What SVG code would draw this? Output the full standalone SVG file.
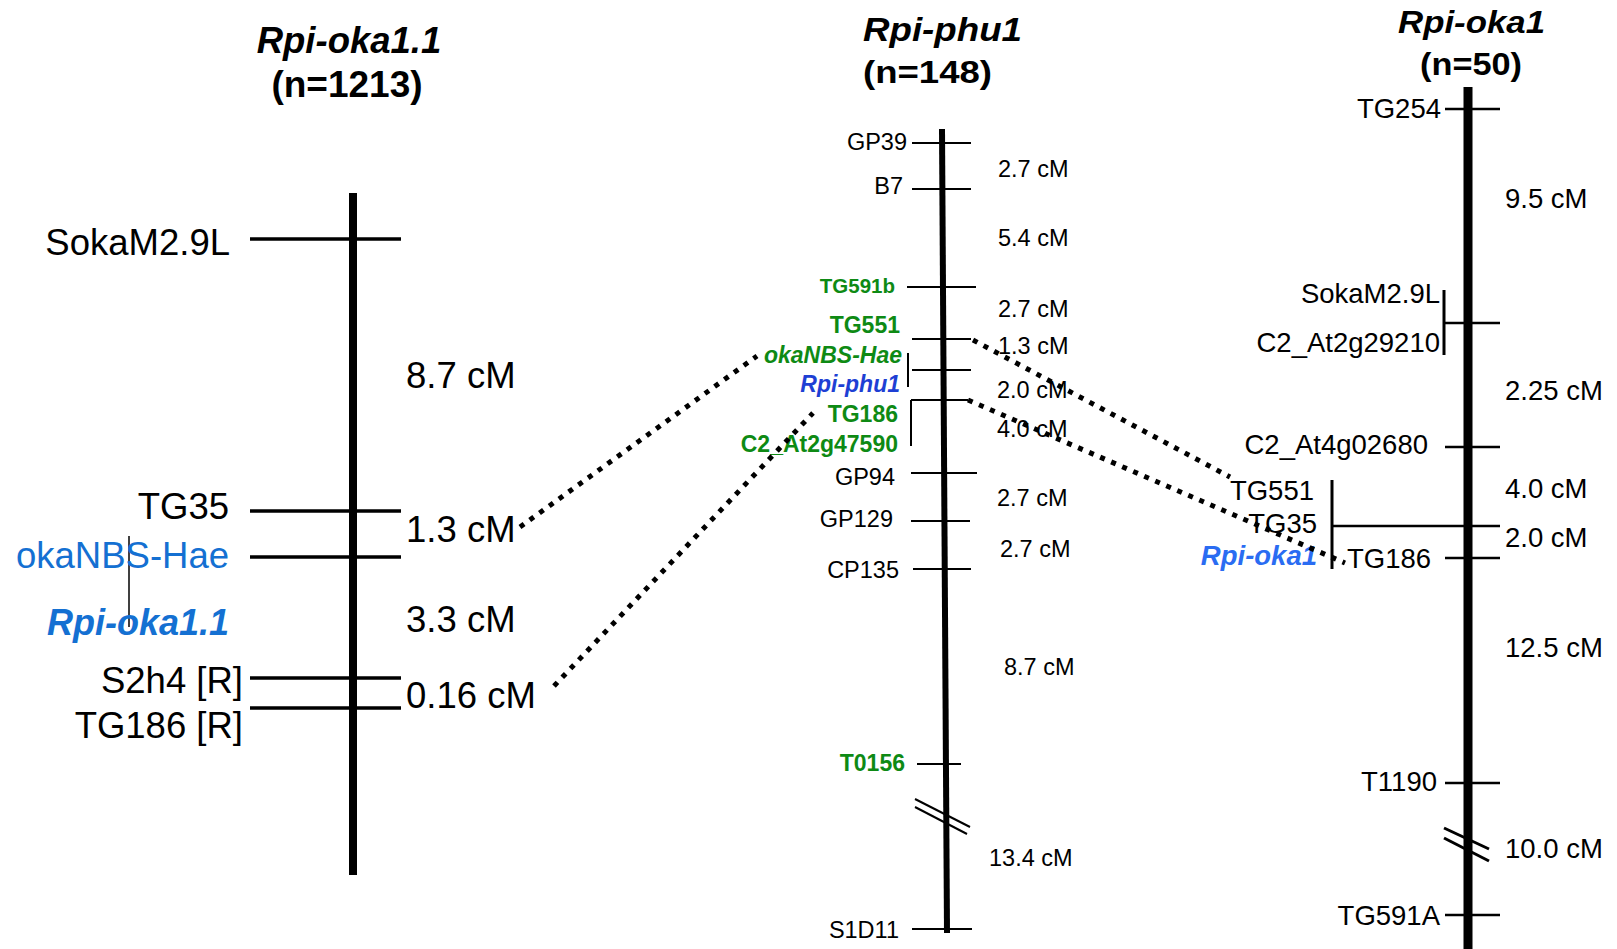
<svg xmlns="http://www.w3.org/2000/svg" width="1617" height="949" viewBox="0 0 1617 949">
<style>
text{font-family:"Liberation Sans",Arial,sans-serif;fill:#000}
.t{font-weight:bold}
.ti{font-weight:bold;font-style:italic}
.L{font-size:36.5px}
.M{font-size:23.5px}
.R{font-size:27.5px}
.e{text-anchor:end}
.g{fill:#0e8a14;font-weight:bold}
.blue1{fill:#1470d2}
.blue2{fill:#1e3fd4}
.blue3{fill:#2a6cf2}
.chr{stroke:#000;fill:none}
.tk{stroke:#000;fill:none}
.dot{stroke:#000;stroke-width:5;stroke-dasharray:5 7;fill:none}
</style>
<rect width="1617" height="949" fill="#fff"/>

<g id="titles">
<text class="ti" x="349" y="53" font-size="36.5" text-anchor="middle">Rpi-oka1.1</text>
<text class="t" x="347" y="97" font-size="37" text-anchor="middle">(n=1213)</text>
<text class="ti" x="863" y="41" font-size="33" textLength="159" lengthAdjust="spacingAndGlyphs">Rpi-phu1</text>
<text class="t" x="863" y="83" font-size="32" textLength="129" lengthAdjust="spacingAndGlyphs">(n=148)</text>
<text class="ti" x="1398" y="33" font-size="32" textLength="147" lengthAdjust="spacingAndGlyphs">Rpi-oka1</text>
<text class="t" x="1420" y="75" font-size="32" textLength="102" lengthAdjust="spacingAndGlyphs">(n=50)</text>
</g>

<g id="chrom-left">
<line class="chr" x1="353" y1="193" x2="353" y2="875" stroke-width="8"/>
<g class="tk" stroke-width="3.5">
<line x1="250" y1="239" x2="401" y2="239"/>
<line x1="250" y1="511" x2="401" y2="511"/>
<line x1="250" y1="557" x2="401" y2="557"/>
<line x1="250" y1="678" x2="401" y2="678"/>
<line x1="250" y1="708" x2="401" y2="708"/>
</g>
<line class="tk" x1="129" y1="536" x2="129" y2="627" stroke-width="1.5"/>
<text class="L e" x="230" y="255">SokaM2.9L</text>
<text class="L e" x="229" y="519">TG35</text>
<text class="L e blue1" x="229" y="568">okaNBS-Hae</text>
<text class="e ti blue1" x="229" y="635" font-size="36">Rpi-oka1.1</text>
<text class="L e" x="243" y="693">S2h4 [R]</text>
<text class="L e" x="243" y="738">TG186 [R]</text>
<text class="L" x="406" y="388">8.7 cM</text>
<text class="L" x="406" y="542">1.3 cM</text>
<text class="L" x="406" y="632">3.3 cM</text>
<text class="L" x="406" y="708">0.16 cM</text>
</g>

<g id="chrom-middle">
<line class="chr" x1="942" y1="129" x2="947" y2="933" stroke-width="6"/>
<g class="tk" stroke-width="2">
<line x1="912" y1="143" x2="971" y2="143"/>
<line x1="912" y1="189" x2="971" y2="189"/>
<line x1="907" y1="287" x2="976" y2="287"/>
<line x1="912" y1="339" x2="971" y2="339"/>
<line x1="912" y1="370" x2="971" y2="370"/>
<line x1="911" y1="400" x2="968" y2="400"/>
<line x1="911" y1="473" x2="977" y2="473"/>
<line x1="911" y1="521" x2="970" y2="521"/>
<line x1="913" y1="569" x2="971" y2="569"/>
<line x1="917" y1="764" x2="961" y2="764"/>
<line x1="912" y1="929" x2="972" y2="929"/>
<line x1="908" y1="353" x2="908" y2="387"/>
<line x1="911" y1="400" x2="911" y2="446"/>
<line x1="915" y1="799" x2="970" y2="827"/>
<line x1="915" y1="807" x2="967" y2="834"/>
</g>
<text class="M e" x="907" y="150">GP39</text>
<text class="M e" x="903" y="194">B7</text>
<text class="e g" x="895" y="293" font-size="20.5">TG591b</text>
<text class="e g" x="900" y="333" font-size="23">TG551</text>
<text class="e g ti" x="902" y="363" font-size="23">okaNBS-Hae</text>
<text class="e ti blue2" x="900" y="392" font-size="23">Rpi-phu1</text>
<text class="e g" x="898" y="422" font-size="23">TG186</text>
<text class="e g" x="898" y="452" font-size="23">C2_At2g47590</text>
<text class="M e" x="895" y="485">GP94</text>
<text class="M e" x="893" y="527">GP129</text>
<text class="M e" x="899" y="578">CP135</text>
<text class="e g" x="905" y="771" font-size="23">T0156</text>
<text class="M e" x="899" y="938">S1D11</text>
<text class="M" x="998" y="177">2.7 cM</text>
<text class="M" x="998" y="246">5.4 cM</text>
<text class="M" x="998" y="317">2.7 cM</text>
<text class="M" x="998" y="354">1.3 cM</text>
<text class="M" x="997" y="398">2.0 cM</text>
<text class="M" x="997" y="437">4.0 cM</text>
<text class="M" x="997" y="506">2.7 cM</text>
<text class="M" x="1000" y="557">2.7 cM</text>
<text class="M" x="1004" y="675">8.7 cM</text>
<text class="M" x="989" y="866">13.4 cM</text>
</g>

<g id="chrom-right">
<line class="chr" x1="1468" y1="87" x2="1468" y2="949" stroke-width="9"/>
<g class="tk" stroke-width="2.5">
<line x1="1445" y1="109" x2="1500" y2="109"/>
<line x1="1444" y1="323" x2="1500" y2="323"/>
<line x1="1445" y1="447" x2="1500" y2="447"/>
<line x1="1332" y1="526" x2="1500" y2="526"/>
<line x1="1445" y1="558" x2="1500" y2="558"/>
<line x1="1445" y1="783" x2="1500" y2="783"/>
<line x1="1445" y1="915" x2="1500" y2="915"/>
</g>
<g class="tk" stroke-width="3">
<line x1="1444" y1="290" x2="1444" y2="355"/>
<line x1="1332" y1="480" x2="1332" y2="569"/>
<line x1="1444" y1="828" x2="1489" y2="849"/>
<line x1="1444" y1="838" x2="1489" y2="861"/>
</g>
<text class="R e" x="1441" y="118">TG254</text>
<text class="R e" x="1440" y="303">SokaM2.9L</text>
<text class="R e" x="1440" y="352">C2_At2g29210</text>
<text class="R e" x="1428" y="454">C2_At4g02680</text>
<text class="R e" x="1314" y="500">TG551</text>
<text class="R e" x="1317" y="533">TG35</text>
<text class="R e ti blue3" x="1317" y="565">Rpi-oka1</text>
<text class="R" x="1347" y="568">TG186</text>
<text class="R e" x="1437" y="791">T1190</text>
<text class="R e" x="1440" y="925">TG591A</text>
<text class="R" x="1505" y="208">9.5 cM</text>
<text class="R" x="1505" y="400">2.25 cM</text>
<text class="R" x="1505" y="498">4.0 cM</text>
<text class="R" x="1505" y="547">2.0 cM</text>
<text class="R" x="1505" y="657">12.5 cM</text>
<text class="R" x="1505" y="858">10.0 cM</text>
</g>

<g id="connectors">
<line class="dot" x1="520" y1="527" x2="757" y2="356"/>
<line class="dot" x1="554" y1="686" x2="813" y2="413"/>
<line class="dot" x1="973" y1="340" x2="1230" y2="477"/>
<line class="dot" x1="968" y1="400" x2="1345" y2="563"/>
</g>
</svg>
